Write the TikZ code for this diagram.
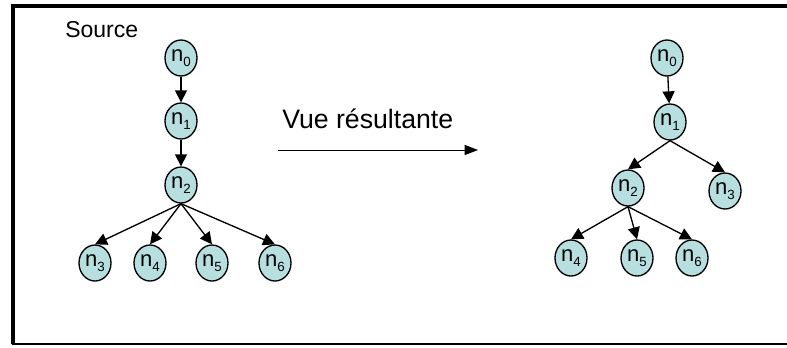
\documentclass[tikz,border=0pt]{standalone}
\usepackage{fontspec}
\setmainfont{Liberation Sans}
\usepackage{xcolor}
\usepackage{tikz}
\usetikzlibrary{arrows.meta,shapes.geometric}
\definecolor{nodecyan}{HTML}{B7DFE0}
\newcommand{\nsub}[1]{n\raisebox{-0.45ex}{\fontsize{10pt}{10pt}\selectfont #1}}

\begin{document}
\begin{tikzpicture}[x=0.75pt,y=-0.75pt,
  tnode/.style={ellipse,draw,line width=1pt,fill=nodecyan,minimum width=24pt,minimum height=27pt,inner sep=0pt,font=\fontsize{16.5pt}{16.5pt}\selectfont},
  link/.style={-{Triangle[length=9pt,width=9pt]},line width=1pt},
  caption/.style={anchor=base west,inner sep=0pt}
]
\useasboundingbox (0,0) rectangle (787,347);
\draw[line width=3pt] (13,344) -- (13,6) -- (800,6);
\draw[line width=1.2pt] (11.5,344) -- (800,344);

\node[caption,font=\fontsize{17.25pt}{17.25pt}\selectfont] (src) at (65,37) {Source};

% arbre source
\node[tnode] (sn0) at (181,58) {\nsub{0}};
\node[tnode] (sn1) at (181,121) {\nsub{1}};
\node[tnode] (sn2) at (181,185) {\nsub{2}};
\node[tnode] (sn3) at (95,263) {\nsub{3}};
\node[tnode] (sn4) at (150,263) {\nsub{4}};
\node[tnode] (sn5) at (212,263) {\nsub{5}};
\node[tnode] (sn6) at (275,263) {\nsub{6}};
\draw[link] (sn0) -- (sn1);
\draw[link] (sn1) -- (sn2);
\draw[link] (sn2.south) -- (sn3.north);
\draw[link] (sn2.south) -- (sn4.north);
\draw[link] (sn2.south) -- (sn5.north);
\draw[link] (sn2.south) -- (sn6.north);

\node[caption,font=\fontsize{20pt}{20pt}\selectfont] (vue) at (282,128) {Vue résultante};
\coordinate (vs) at (278,150);
\coordinate (ve) at (478,150);
\draw[-{Triangle[length=10pt,width=7.5pt]},line width=0.75pt] (vs) -- (ve);

% vue
\node[tnode] (vn0) at (667,58) {\nsub{0}};
\node[tnode] (vn1) at (670,122) {\nsub{1}};
\node[tnode] (vn2) at (628,188) {\nsub{2}};
\node[tnode] (vn3) at (725,191) {\nsub{3}};
\node[tnode] (vn4) at (571,258) {\nsub{4}};
\node[tnode] (vn5) at (637,258) {\nsub{5}};
\node[tnode] (vn6) at (692,258) {\nsub{6}};
\draw[link] (vn0) -- (vn1);
\draw[link] (vn1.south) -- (vn2.north);
\draw[link] (vn1.south) -- (vn3.north);
\draw[link] (vn2.south) -- (vn4.north);
\draw[link] (vn2.south) -- (vn5.north);
\draw[link] (vn2.south) -- (vn6.north);
\end{tikzpicture}
\end{document}
